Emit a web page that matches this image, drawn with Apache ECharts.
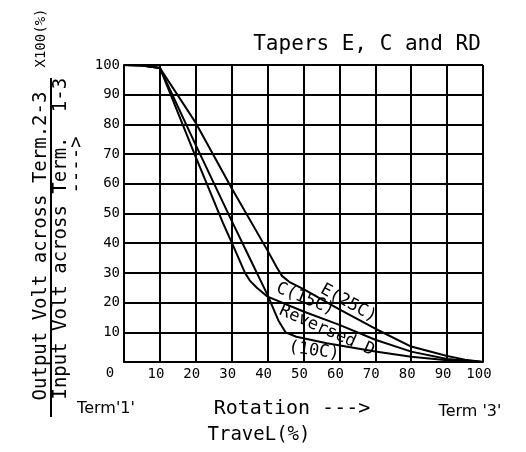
<!DOCTYPE html>
<html>
<head>
    <meta charset="utf-8">
    <title>Tapers E, C and RD</title>
    <style>
        html, body { margin: 0; padding: 0; background: #fff; }
        #main { width: 526px; height: 452px; }
    </style>
</head>
<body>
<div id="main"></div>
<script src="https://cdn.jsdelivr.net/npm/echarts@6/dist/echarts.min.js"></script>
<script type="text/javascript">
    // travel (%) vs output/input ratio (%)
    var travelE = [0, 5, 10, 20, 30, 40, 42.5, 44, 46, 50, 60, 70, 80, 90, 95, 100];
    var voltE   = [100, 99.8, 99, 80.5, 58.5, 37.5, 32, 29, 27, 24.5, 17.7, 11.2, 5.2, 2, 0.8, 0];

    var travelC = [0, 5, 10, 20, 27.5, 31, 33.7, 35, 37, 40, 50, 60, 70, 80, 90, 100];
    var voltC   = [100, 99.8, 99, 69, 47, 37.5, 30, 27.5, 25, 22, 17, 12.5, 7.5, 3.5, 1, 0];

    var travelD = [0, 5, 10, 20, 30, 35, 40, 43, 45, 48, 56.5, 70, 80, 90, 100];
    var voltD   = [100, 99.8, 99, 73, 47.5, 35, 22.5, 14, 10, 8.5, 6.3, 3.5, 1.8, 0.6, 0];

    // curve names written on the chart
    var curveLabels = ['E(25C)', 'C(15C)', 'Reversed D', '(10C)'];

    var FONT = 'DejaVu Sans Mono';

    function pairs(xs, ys) {
        var out = [];
        for (var i = 0; i < xs.length; i++) out.push([xs[i], ys[i]]);
        return out;
    }

    function curve(name, xs, ys) {
        return {
            name: name,
            type: 'line',
            symbol: 'none',
            silent: true,
            lineStyle: { color: '#000', width: 2 },
            data: pairs(xs, ys)
        };
    }

    var axisCommon = {
        type: 'value',
        min: 0,
        max: 100,
        interval: 10,
        axisLine: { show: true, lineStyle: { color: '#000', width: 2 } },
        axisTick: { show: false },
        splitLine: { show: true, lineStyle: { color: '#000', width: 2 } }
    };

    var myChart = echarts.init(document.getElementById('main'));

    myChart.setOption({
        animation: false,
        backgroundColor: '#fff',
        grid: { left: 124, right: 43, top: 65, bottom: 90 },
        xAxis: Object.assign({}, axisCommon, {
            axisLabel: {
                color: '#000', fontFamily: FONT, fontSize: 14, margin: 5,
                padding: [0, 8, 0, 0],
                formatter: function (v) { return v === 0 ? '' : String(v); }
            }
        }),
        yAxis: Object.assign({}, axisCommon, {
            axisLabel: {
                color: '#000', fontFamily: FONT, fontSize: 14, margin: 4,
                formatter: function (v) { return v === 0 ? '' : String(v); }
            }
        }),
        series: [
            curve('E', travelE, voltE),
            curve('C', travelC, voltC),
            curve('Reversed D', travelD, voltD)
        ]
    });

    // text on the curves, anchored in data units (x, y, angle in degrees)
    var labelAt = [[62.5, 19.8, 29], [50.5, 21.2, 22], [56.5, 10.6, 24], [52.9, 3.8, 8]];
    var curveTexts = curveLabels.map(function (t, i) {
        var p = myChart.convertToPixel({ gridIndex: 0 }, [labelAt[i][0], labelAt[i][1]]);
        return {
            type: 'text', x: p[0], y: p[1], rotation: -labelAt[i][2] * Math.PI / 180,
            style: { text: t, fill: '#000', font: '17px "' + FONT + '"', align: 'center', verticalAlign: 'middle' }
        };
    });

    function txt(t, x, y, size, rot, family) {
        return {
            type: 'text', x: x, y: y, rotation: rot || 0,
            style: {
                text: t, fill: '#000',
                font: size + 'px "' + (family || FONT) + '"',
                align: 'center', verticalAlign: 'middle'
            }
        };
    }

    var up = Math.PI / 2;
    myChart.setOption({
        graphic: curveTexts.concat([
            txt('Tapers E, C and RD', 367, 45, 21),
            txt('0', 110, 373, 14),
            // y axis title as a fraction
            txt('Output Volt across Term.2-3', 41, 246, 19, up),
            txt('X100(%)', 41, 38, 14, up),
            { type: 'line', shape: { x1: 51, y1: 78, x2: 51, y2: 417 }, style: { stroke: '#000', lineWidth: 2 } },
            txt('Input Volt across Term.', 61, 268, 19, up),
            txt('1-3', 61, 95, 19, up),
            txt('---->', 77, 165, 19, up),
            // x axis titles
            txt("Term'1'", 106, 409, 16, 0, 'DejaVu Sans'),
            txt('Rotation --->', 292, 409, 20),
            txt("Term '3'", 470, 412, 16, 0, 'DejaVu Sans'),
            txt('TraveL(%)', 259, 435, 19)
        ])
    });
</script>
</body>
</html>
